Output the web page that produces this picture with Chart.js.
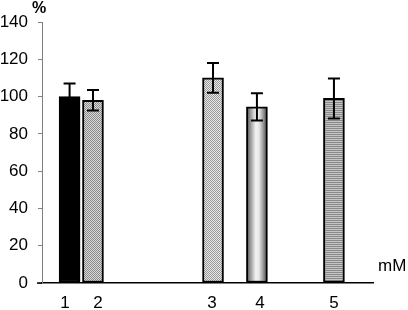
<!DOCTYPE html>
<html>
<head>
<meta charset="utf-8">
<script src="https://cdn.jsdelivr.net/npm/chart.js@4"></script>
<style>
  html, body { margin: 0; background: #fff; }
  #wrap { width: 408px; height: 310px; position: relative; }
</style>
</head>
<body>
<div id="wrap"><canvas id="chart"></canvas></div>
<script>
// data
const labels = ['1', '2', '3', '4', '5'];
const positions = [1.25, 2.31, 7.75, 9.74, 13.23];
const labelPositions = [1.04, 2.54, 7.7, 9.88, 13.23];
const values = [100, 98, 110, 94.5, 99];
const errors = [7, 5.5, 8, 7.3, 10.7];
const yTicks = [0, 20, 40, 60, 80, 100, 120, 140];

const FONT = 'Arial, "Liberation Sans", sans-serif';

// stipple patterns for the hatched bars
function stipple(light, dark) {
  const c = document.createElement('canvas');
  c.width = 2; c.height = 2;
  const g = c.getContext('2d');
  g.fillStyle = light; g.fillRect(0, 0, 2, 2);
  g.fillStyle = dark; g.fillRect(0, 0, 1, 1); g.fillRect(1, 1, 1, 1);
  return g.createPattern(c, 'repeat');
}
function lined(light, dark) {
  const c = document.createElement('canvas');
  c.width = 2; c.height = 2;
  const g = c.getContext('2d');
  g.fillStyle = light; g.fillRect(0, 0, 2, 2);
  g.fillStyle = dark; g.fillRect(0, 0, 2, 1);
  return g.createPattern(c, 'repeat');
}

const fills = [
  '#000000',
  stipple('#d8d8d8', '#8c8c8c'),
  stipple('#e8e8e8', '#9a9a9a'),
  null, // gradient, built at draw time
  lined('#c4c4c4', '#8a8a8a')
];

function barFill(ctx) {
  const i = ctx.dataIndex;
  if (i !== 3) return fills[i];
  const chart = ctx.chart;
  const xs = chart.scales.x;
  if (!xs || xs.left === undefined) return '#bbb';
  const cx = xs.getPixelForValue(positions[i]);
  const g = chart.ctx.createLinearGradient(cx - 11, 0, cx + 11, 0);
  g.addColorStop(0, '#4a4a4a');
  g.addColorStop(0.45, '#f4f4f4');
  g.addColorStop(0.6, '#e6e6e6');
  g.addColorStop(1, '#3c3c3c');
  return g;
}

// error bars + axis unit labels
const extras = {
  id: 'extras',
  afterDatasetsDraw(chart) {
    const { ctx, scales: { x, y }, chartArea } = chart;
    ctx.save();
    ctx.strokeStyle = '#000';
    ctx.lineWidth = 2;
    values.forEach((v, i) => {
      const px = x.getPixelForValue(positions[i]);
      const top = y.getPixelForValue(v + errors[i]);
      const bot = y.getPixelForValue(v - errors[i]);
      ctx.beginPath();
      ctx.moveTo(px, top); ctx.lineTo(px, bot);
      ctx.moveTo(px - 6, top); ctx.lineTo(px + 6, top);
      ctx.moveTo(px - 6, bot); ctx.lineTo(px + 6, bot);
      ctx.stroke();
    });
    // x axis runs a little left of the y axis
    ctx.lineWidth = 1.5;
    ctx.beginPath();
    ctx.moveTo(chartArea.left - 5, chartArea.bottom);
    ctx.lineTo(chartArea.left, chartArea.bottom);
    ctx.stroke();
    ctx.fillStyle = '#000';
    ctx.font = 'bold 16px ' + FONT;
    ctx.textAlign = 'center';
    ctx.textBaseline = 'middle';
    ctx.fillText('%', chartArea.left - 3, 9);
    ctx.font = '17px ' + FONT;
    ctx.textAlign = 'left';
    ctx.fillText('mM', chartArea.right + 5, chartArea.bottom - 17);
    ctx.restore();
  }
};

new Chart(document.getElementById('chart'), {
  type: 'bar',
  data: {
    datasets: [{
      data: positions.map((p, i) => ({ x: p, y: values[i] })),
      backgroundColor: barFill,
      borderColor: '#000',
      borderWidth: 2,
      borderSkipped: false,
      barThickness: 21
    }]
  },
  options: {
    responsive: true,
    maintainAspectRatio: false,
    animation: false,
    layout: { padding: { top: 22, right: 35, bottom: 0, left: 0 } },
    plugins: { legend: { display: false }, tooltip: { enabled: false } },
    scales: {
      x: {
        type: 'linear',
        offset: false,
        min: 0,
        max: 15,
        afterFit(scale) { scale.height = 27; },
        grid: { display: false },
        border: { color: '#000', width: 1.5 },
        afterBuildTicks(scale) {
          scale.ticks = labelPositions.map(p => ({ value: p }));
        },
        ticks: {
          color: '#000',
          font: { family: FONT, size: 17 },
          padding: 2,
          maxRotation: 0,
          callback: (v, i) => labels[i]
        }
      },
      y: {
        min: 0,
        max: 140,
        afterFit(scale) { scale.width = 42; },
        afterBuildTicks(scale) {
          scale.ticks = yTicks.map(v => ({ value: v }));
        },
        grid: { drawOnChartArea: false, tickLength: 4, color: '#808080' },
        border: { color: '#808080', width: 1 },
        ticks: {
          color: '#000',
          font: { family: FONT, size: 17 },
          padding: 10
        }
      }
    }
  },
  plugins: [extras]
});
</script>
</body>
</html>
